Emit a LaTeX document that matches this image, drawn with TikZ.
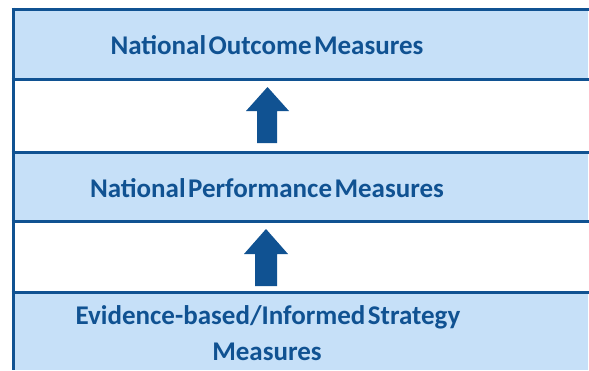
\documentclass[tikz,border=0pt]{standalone}
\usepackage{fontspec}
\setmainfont{Carlito}[WordSpace={0.4,0,0}]
\definecolor{bandblue}{RGB}{198,224,248}
\definecolor{darkblue}{RGB}{16,82,146}
\begin{document}
\begin{tikzpicture}[x=1pt,y=-1pt,
  band/.style={fill=bandblue,draw=none},
  label/.style={font=\bfseries\fontsize{27}{36}\selectfont,text=darkblue,align=center,inner sep=0pt},
  border/.style={draw=darkblue,line width=3pt},
  uparrow/.style={fill=darkblue}]
\useasboundingbox (0,0) rectangle (589,370);
% bands
\fill[band] (13,9) rectangle (588,79);
\fill[band] (13,152) rectangle (588,221);
\fill[band] (13,292) rectangle (588,370);
% texts
\node[label,anchor=base] (outcome) at (267,54) {National Outcome Measures};
\node[label,anchor=base] (perf) at (267,197) {National Performance Measures};
\node[label,anchor=base] (evid) at (268,324) {Evidence-based/Informed Strategy};
\node[label,anchor=base] (evid2) at (267,360) {Measures};
% border lines
\draw[border] (11.5,9) -- (589,9);
\draw[border] (11.5,79) -- (589,79);
\draw[border] (11.5,152) -- (589,152);
\draw[border] (11.5,221) -- (589,221);
\draw[border] (11.5,292) -- (589,292);
\draw[border] (13,7.5) -- (13,370);
% arrows
\fill[uparrow] (267.5,87) -- (289,111) -- (277,111) -- (277,143) -- (257,143) -- (257,111) -- (246,111) -- cycle;
\fill[uparrow] (266,229) -- (288,254) -- (277,254) -- (277,286) -- (255,286) -- (255,254) -- (244,254) -- cycle;
\end{tikzpicture}
\end{document}
